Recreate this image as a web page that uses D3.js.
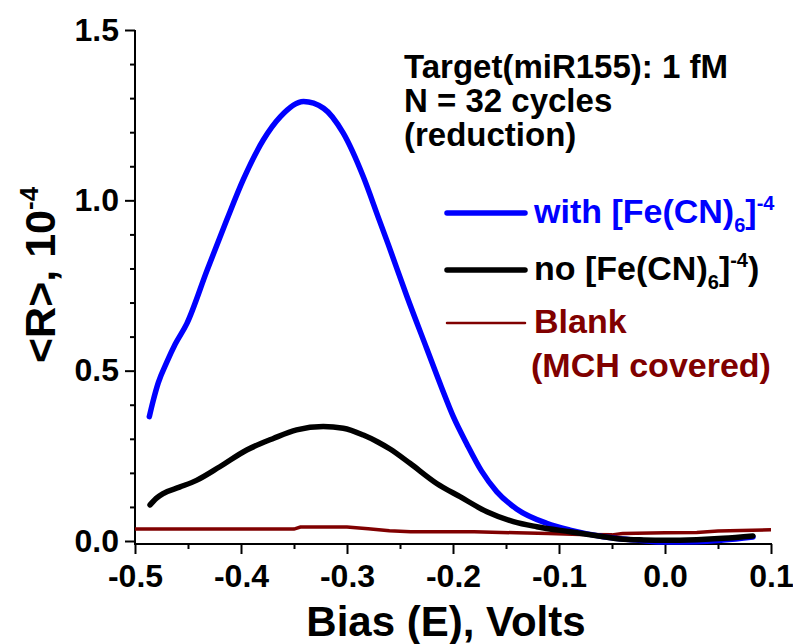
<!DOCTYPE html>
<html>
<head>
<meta charset="utf-8">
<script src="https://cdn.jsdelivr.net/npm/d3@7"></script>
<style>
  body { margin: 0; background: #fff; }
  svg text { font-family: "Liberation Sans", Arial, sans-serif; font-weight: bold; }
</style>
</head>
<body>
<div id="chart"></div>
<script>
var width = 793;
var height = 644;

// bias (V) and <R> (x1e-4)
var blueX = [-0.4865, -0.483, -0.478, -0.470, -0.462, -0.451, -0.432, -0.4135, -0.398, -0.379, -0.363, -0.341, -0.322, -0.3035, -0.2846, -0.2705, -0.261, -0.2437, -0.2248, -0.2107, -0.1997, -0.187, -0.173, -0.1588, -0.140, -0.1116, -0.0896, -0.058, -0.04, -0.02, 0.0, 0.03, 0.055, 0.083];
var blueY = [0.365, 0.41, 0.465, 0.525, 0.578, 0.639, 0.795, 0.942, 1.06, 1.177, 1.245, 1.29, 1.27, 1.197, 1.069, 0.950, 0.870, 0.720, 0.565, 0.450, 0.365, 0.285, 0.205, 0.145, 0.094, 0.052, 0.032, 0.0126, 0.006, 0.001, -0.003, -0.002, 0.003, 0.012];

var blackX = [-0.4858, -0.480, -0.473, -0.458, -0.442, -0.42, -0.3946, -0.3695, -0.3475, -0.3224, -0.3035, -0.2846, -0.2705, -0.2594, -0.2406, -0.2154, -0.1934, -0.168, -0.143, -0.121, -0.0896, -0.058, -0.0425, -0.02, 0.0, 0.03, 0.055, 0.083];
var blackY = [0.106, 0.125, 0.14, 0.158, 0.178, 0.218, 0.267, 0.301, 0.326, 0.336, 0.331, 0.311, 0.290, 0.27, 0.228, 0.169, 0.130, 0.086, 0.057, 0.042, 0.027, 0.0126, 0.006, 0.003, 0.002, 0.004, 0.008, 0.015];

var redX = [-0.5, -0.35, -0.344, -0.3, -0.28, -0.26, -0.24, -0.18, -0.14, -0.11, -0.08, -0.05, -0.04, 0.0, 0.03, 0.05, 0.1];
var redY = [0.035, 0.035, 0.041, 0.041, 0.036, 0.030, 0.027, 0.027, 0.024, 0.022, 0.019, 0.018, 0.022, 0.024, 0.025, 0.029, 0.033];

var xMajor = [-0.5, -0.4, -0.3, -0.2, -0.1, 0.0, 0.1];
var xLabels = ["-0.5", "-0.4", "-0.3", "-0.2", "-0.1", "0.0", "0.1"];
var xMinor = [-0.45, -0.35, -0.25, -0.15, -0.05, 0.05];
var yMajor = [0, 0.5, 1.0, 1.5];
var yLabels = ["0.0", "0.5", "1.0", "1.5"];
var yMinor = [0.1, 0.2, 0.3, 0.4, 0.6, 0.7, 0.8, 0.9, 1.1, 1.2, 1.3, 1.4];

var xScale = d3.scaleLinear().domain([-0.5, 0.1]).range([135, 771]);
var yScale = d3.scaleLinear().domain([0, 1.5]).range([541, 30]);
var axisY0 = 544;

var svg = d3.select("#chart")
    .append("svg")
    .attr("width", width)
    .attr("height", height);

// axes
var xAxis = d3.axisBottom(xScale).tickValues(xMajor).tickSize(10).tickPadding(10)
    .tickFormat(function(d, i) { return xLabels[i]; });
var xAxisMinor = d3.axisBottom(xScale).tickValues(xMinor).tickSize(5).tickFormat("");
var yAxis = d3.axisLeft(yScale).tickValues(yMajor).tickSize(10).tickPadding(6)
    .tickFormat(function(d, i) { return yLabels[i]; });
var yAxisMinor = d3.axisLeft(yScale).tickValues(yMinor).tickSize(5).tickFormat("");

[[xAxis, "translate(0," + axisY0 + ")"], [xAxisMinor, "translate(0," + axisY0 + ")"],
 [yAxis, "translate(135,0)"], [yAxisMinor, "translate(135,0)"]].forEach(function(a) {
    var g = svg.append("g").attr("transform", a[1]).call(a[0]);
    g.select(".domain").remove();
    g.selectAll("line").attr("stroke", "#000").attr("stroke-width", 2);
    g.selectAll("text").attr("fill", "#000").style("font-size", "32px");
});

svg.append("line")
    .attr("x1", 135).attr("x2", 135)
    .attr("y1", yScale(1.5)).attr("y2", axisY0 + 1)
    .attr("stroke", "#000").attr("stroke-width", 2);
svg.append("line")
    .attr("x1", 134).attr("x2", xScale(0.1) + 1)
    .attr("y1", axisY0).attr("y2", axisY0)
    .attr("stroke", "#000").attr("stroke-width", 2);

// curves
var smooth = d3.line()
    .x(function(d) { return xScale(d[0]); })
    .y(function(d) { return yScale(d[1]); })
    .curve(d3.curveMonotoneX);
var straight = d3.line()
    .x(function(d) { return xScale(d[0]); })
    .y(function(d) { return yScale(d[1]); });

function series(xs, ys) {
    return xs.map(function(x, i) { return [x, ys[i]]; });
}

svg.append("path").datum(series(redX, redY))
    .attr("d", straight)
    .attr("fill", "none").attr("stroke", "#800000").attr("stroke-width", 3.5);

svg.append("path").datum(series(blueX, blueY))
    .attr("d", smooth)
    .attr("fill", "none").attr("stroke", "#0000ff").attr("stroke-width", 5.5)
    .attr("stroke-linecap", "round").attr("stroke-linejoin", "round");

svg.append("path").datum(series(blackX, blackY))
    .attr("d", smooth)
    .attr("fill", "none").attr("stroke", "#000").attr("stroke-width", 5.5)
    .attr("stroke-linecap", "round").attr("stroke-linejoin", "round");

// axis titles
svg.append("text")
    .attr("x", 446).attr("y", 636)
    .attr("text-anchor", "middle")
    .style("font-size", "42px")
    .text("Bias (E), Volts");

var yt = svg.append("text")
    .attr("transform", "translate(55,363) rotate(-90)")
    .style("font-size", "43px");
yt.append("tspan").text("<R>, 10");
yt.append("tspan").attr("dy", -17).style("font-size", "26px").text("-4");

// annotation
var notes = ["Target(miR155): 1 fM", "N = 32 cycles", "(reduction)"];
svg.selectAll(".note").data(notes).enter()
    .append("text")
    .attr("class", "note")
    .attr("x", 404)
    .attr("y", function(d, i) { return 78 + i * 34; })
    .style("font-size", "33px")
    .text(function(d) { return d; });

// legend
var legend = [
    {color: "#0000ff", w: 5.5, y: 213},
    {color: "#000", w: 5.5, y: 270},
    {color: "#800000", w: 2.5, y: 323}
];
legend.forEach(function(d) {
    svg.append("line")
        .attr("x1", 447).attr("x2", 525)
        .attr("y1", d.y).attr("y2", d.y)
        .attr("stroke", d.color).attr("stroke-width", d.w)
        .attr("stroke-linecap", "round");
});

function fe(y, color, tail) {
    var t = svg.append("text").attr("x", 534).attr("y", y)
        .attr("fill", color).style("font-size", "34px");
    t.append("tspan").text(tail[0]);
    t.append("tspan").attr("dy", 9).style("font-size", "20px").text("6");
    t.append("tspan").attr("dy", -9).text("]");
    t.append("tspan").attr("dy", -13).style("font-size", "20px").text("-4");
    if (tail[1]) t.append("tspan").attr("dy", 13).text(tail[1]);
}
fe(223, "#0000ff", ["with [Fe(CN)", ""]);
fe(280, "#000", ["no [Fe(CN)", ")"]);

svg.append("text").attr("x", 534).attr("y", 333)
    .attr("fill", "#800000").style("font-size", "34px").text("Blank");
svg.append("text").attr("x", 531).attr("y", 377)
    .attr("fill", "#800000").style("font-size", "34px").text("(MCH covered)");
</script>
</body>
</html>
